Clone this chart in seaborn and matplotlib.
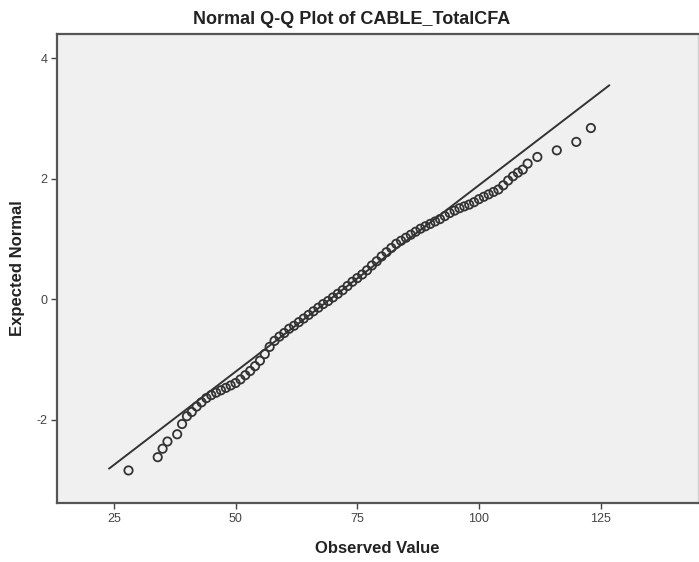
import matplotlib
matplotlib.use("Agg")
import matplotlib.pyplot as plt
import seaborn as sns
import pandas as pd

# Observed values (one point per distinct value) and their expected normal scores
observed = [28, 34, 35, 36, 38, 39, 40, 41, 42, 43, 44, 45, 46, 47, 48, 49, 50,
            51, 52, 53, 54, 55, 56, 57, 58, 59, 60, 61, 62, 63, 64, 65, 66, 67,
            68, 69, 70, 71, 72, 73, 74, 75, 76, 77, 78, 79, 80, 81, 82, 83, 84,
            85, 86, 87, 88, 89, 90, 91, 92, 93, 94, 95, 96, 97, 98, 99, 100,
            101, 102, 103, 104, 105, 106, 107, 108, 109, 110, 112, 116, 120, 123]
expected = [-2.84, -2.62, -2.48, -2.36, -2.24, -2.07, -1.94, -1.87, -1.78, -1.71,
            -1.64, -1.59, -1.55, -1.51, -1.47, -1.43, -1.39, -1.33, -1.26, -1.19,
            -1.11, -1.02, -0.91, -0.79, -0.69, -0.62, -0.56, -0.49, -0.44, -0.38,
            -0.32, -0.26, -0.20, -0.14, -0.08, -0.03, 0.03, 0.09, 0.15, 0.22,
            0.29, 0.35, 0.41, 0.48, 0.56, 0.63, 0.71, 0.78, 0.85, 0.92, 0.97,
            1.02, 1.07, 1.12, 1.17, 1.21, 1.25, 1.29, 1.33, 1.38, 1.43, 1.47,
            1.51, 1.54, 1.57, 1.61, 1.66, 1.70, 1.74, 1.78, 1.82, 1.89, 1.97,
            2.04, 2.10, 2.15, 2.25, 2.36, 2.47, 2.61, 2.84]

# Reference line (normal distribution fitted to the data)
ref_x = [24.0, 126.8]
ref_y = [-2.81, 3.55]

x_ticks = [25, 50, 75, 100, 125]
y_ticks = [-2, 0, 2, 4]

points = pd.DataFrame({"Observed Value": observed, "Expected Normal": expected})
line = pd.DataFrame({"x": ref_x, "y": ref_y})

sns.set_theme(style="white")
plt.rcParams["font.family"] = ["Liberation Sans", "DejaVu Sans"]
plt.rcParams["axes.unicode_minus"] = False

fig = plt.figure(figsize=(6.99, 5.62), dpi=100)
ax = fig.add_axes([0.0815, 0.105, 0.917, 0.8345])
ax.set_facecolor("#f0f0f0")

sns.lineplot(data=line, x="x", y="y", ax=ax, color="#333333", linewidth=1.4,
             zorder=2)
sns.scatterplot(data=points, x="Observed Value", y="Expected Normal", ax=ax,
                marker="o", s=36, facecolor="none", edgecolor="#333333",
                linewidth=1.3, zorder=3)

ax.set_xlim(13.3, 145)
ax.set_ylim(-3.38, 4.4)
ax.set_xticks(x_ticks)
ax.set_yticks(y_ticks)
ax.tick_params(axis="both", direction="out", length=4, width=1,
               color="#444444", labelcolor="#444444", labelsize=9,
               bottom=True, left=True, pad=3)

for side in ("left", "bottom", "top"):
    ax.spines[side].set_color("#555555")
    ax.spines[side].set_linewidth(1.6)
ax.spines["right"].set_color("#d0d0d0")
ax.spines["right"].set_linewidth(1.0)

ax.set_xlabel("Observed Value", fontsize=12, fontweight="bold",
              color="#222222", labelpad=12)
ax.set_ylabel("Expected Normal", fontsize=12, fontweight="bold",
              color="#222222", labelpad=8)
ax.set_title("Normal Q-Q Plot of CABLE_TotalCFA", fontsize=13,
             fontweight="bold", color="#222222", pad=7, x=0.46)

fig.savefig("out.png", dpi=100, facecolor="white")
